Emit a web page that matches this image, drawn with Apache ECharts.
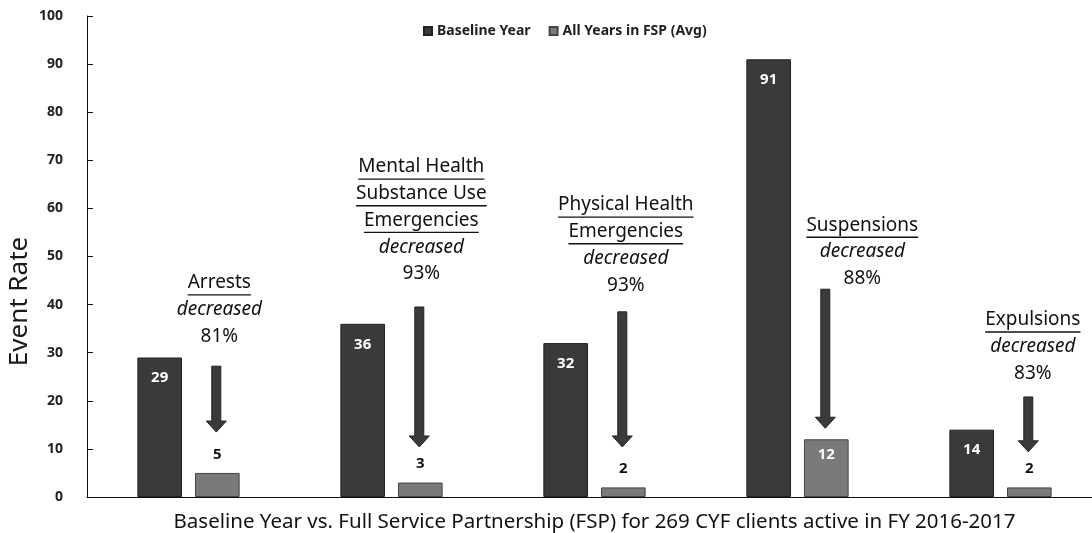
<!DOCTYPE html>
<html><head><meta charset="utf-8">
<script src="https://cdn.jsdelivr.net/npm/echarts@6/dist/echarts.min.js"></script>
<style>html,body{margin:0;padding:0;background:#fff}#c{width:1092px;height:533px}</style>
</head><body><div id="c"></div>
<script>
// ---- data ----
const categories = ['Arrests', 'Mental Health Substance Use Emergencies', 'Physical Health Emergencies', 'Suspensions', 'Expulsions'];
const baselineYear = [29, 36, 32, 91, 14];
const fspAvg = [5, 3, 2, 12, 2];
const yTicks = [0, 10, 20, 30, 40, 50, 60, 70, 80, 90, 100];
const noteTitles = [['Arrests'], ['Mental Health', 'Substance Use', 'Emergencies'], ['Physical Health', 'Emergencies'], ['Suspensions'], ['Expulsions']];
const noteChange = ['81%', '93%', '93%', '88%', '83%'];
const noteTopValue = [44.5, 68.6, 60.7, 56.5, 36.8];
const arrowStart = [27.2, 39.5, 38.5, 43.2, 20.8];
const arrowEnd = [13.5, 10.4, 10.4, 14.3, 9.4];

// ---- layout (not data) ----
const noteShift = [2, 1, 2.5, 36, 3.5];
const FONT = '"Noto Sans", "DejaVu Sans", sans-serif';
const NOTE_SIZE = 19;
const LINE_H = 26.7;
const BAR_PCT = 0.22, GAP_PCT = 0.29;

const measureCtx = document.createElement('canvas').getContext('2d');
function textW(t, font) { measureCtx.font = font; return measureCtx.measureText(t).width; }

const chart = echarts.init(document.getElementById('c'));
const fspLabels = fspAvg.map(v => v >= 10
  ? { value: v, label: { position: 'insideTop', distance: 8, color: '#fff' } }
  : { value: v, label: { position: 'top', distance: 11, color: '#111' } });

chart.setOption({
  animation: false,
  textStyle: { fontFamily: FONT },
  legend: {
    top: 19, left: 418, itemWidth: 8, itemHeight: 8, itemGap: 18,
    icon: 'rect',
    textStyle: { fontSize: 14, fontWeight: 'bold', color: '#222', fontFamily: FONT },
    data: ['Baseline Year', 'All Years in FSP (Avg)']
  },
  grid: { left: 87, right: -10, top: 16, bottom: 36, containLabel: false, outerBoundsMode: 'none' },
  xAxis: {
    type: 'category', data: categories,
    name: 'Baseline Year vs. Full Service Partnership (FSP) for 269 CYF clients active in FY 2016-2017',
    nameLocation: 'middle', nameGap: 15, nameMoveOverlap: false,
    nameTextStyle: { fontSize: 20.5, color: '#111', fontFamily: FONT },
    axisLine: { lineStyle: { color: '#111', width: 1 } },
    axisTick: { inside: true, length: 6, lineStyle: { color: '#111' } },
    axisLabel: { show: false }
  },
  yAxis: {
    type: 'value', min: yTicks[0], max: yTicks[yTicks.length - 1], interval: yTicks[1] - yTicks[0],
    name: 'Event Rate', nameLocation: 'middle', nameGap: 54, nameMoveOverlap: false,
    nameTextStyle: { fontSize: 26, color: '#1a1a1a', padding: [0, 90, 0, 0] },
    axisLine: { show: true, lineStyle: { color: '#111', width: 1 } },
    axisTick: { show: true, inside: true, length: 6, lineStyle: { color: '#111' } },
    axisLabel: { fontSize: 14, fontWeight: 'bold', color: '#222', margin: 24 },
    splitLine: { show: false }
  },
  series: [
    {
      name: 'Baseline Year', type: 'bar', data: baselineYear,
      barWidth: (BAR_PCT * 100) + '%', barGap: (GAP_PCT * 100) + '%',
      itemStyle: { color: '#3a3a3a', borderColor: '#222', borderWidth: 1 },
      label: { show: true, position: 'insideTop', distance: 13, color: '#fff', fontWeight: 'bold', fontSize: 15 }
    },
    {
      name: 'All Years in FSP (Avg)', type: 'bar', data: fspLabels,
      barWidth: (BAR_PCT * 100) + '%', barGap: (GAP_PCT * 100) + '%',
      itemStyle: { color: '#7a7a7a', borderColor: '#444', borderWidth: 1 },
      label: { show: true, fontWeight: 'bold', fontSize: 15 }
    },
    {
      type: 'custom', name: 'notes', silent: true, clip: false, z: 10,
      data: categories.map((c, i) => [i, arrowStart[i], arrowEnd[i], noteTopValue[i]]),
      renderItem: function (params, api) {
        const i = params.dataIndex;
        const bw = api.size([1, 0])[0];
        const barW = bw * BAR_PCT;
        const off = (barW + barW * GAP_PCT) / 2;
        const top = api.coord([api.value(0), api.value(1)]);
        const tip = api.coord([api.value(0), api.value(2)]);
        const ax = top[0] + off - 1;
        const sw = 4.5, hw = 10, hh = 11;
        const children = [{
          type: 'polygon',
          shape: { points: [[ax - sw, top[1]], [ax + sw, top[1]], [ax + sw, tip[1] - hh], [ax + hw, tip[1] - hh], [ax, tip[1]], [ax - hw, tip[1] - hh], [ax - sw, tip[1] - hh]] },
          style: { fill: '#3a3a3a', stroke: '#222', lineWidth: 1 }
        }];
        const tp = api.coord([api.value(0), api.value(3)]);
        const tx = tp[0] + off + noteShift[i];
        let y = tp[1];
        const lines = [];
        noteTitles[i].forEach(t => lines.push({ t, u: true, it: false }));
        lines.push({ t: 'decreased', u: false, it: true });
        lines.push({ t: noteChange[i], u: false, it: false });
        lines.forEach(l => {
          const font = (l.it ? 'italic ' : '') + NOTE_SIZE + 'px ' + FONT;
          children.push({
            type: 'text',
            style: { x: tx, y: y, text: l.t, font: font, fill: '#111', align: 'center', verticalAlign: 'middle' }
          });
          if (l.u) {
            const w = textW(l.t, font);
            children.push({
              type: 'line',
              shape: { x1: tx - w / 2, y1: y + 12, x2: tx + w / 2, y2: y + 12 },
              style: { stroke: '#111', lineWidth: 1.3 }
            });
          }
          y += LINE_H;
        });
        return { type: 'group', children };
      }
    }
  ]
});
</script>
</body></html>
